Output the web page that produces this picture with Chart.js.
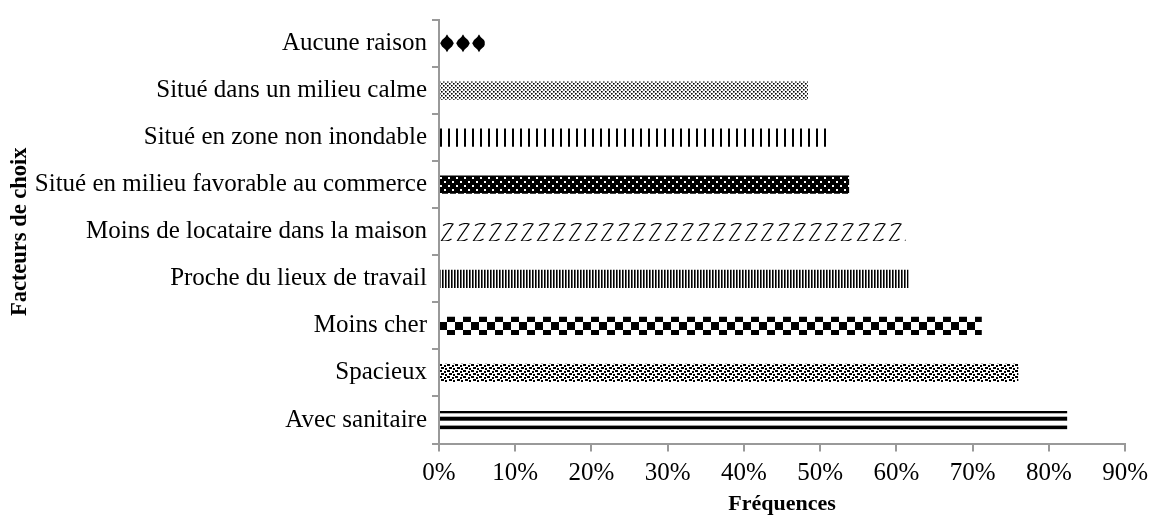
<!DOCTYPE html>
<html>
<head>
<meta charset="utf-8">
<script src="https://cdn.jsdelivr.net/npm/chart.js@4.4.1/dist/chart.umd.min.js"></script>
<style>
  html, body { margin: 0; padding: 0; background: #ffffff; }
  #wrap { width: 1155px; height: 524px; position: relative; }
</style>
</head>
<body>
<div id="wrap"><canvas id="chart"></canvas></div>
<script>
// Facteurs de choix du logement (fréquences en %)
const categories = [
  'Aucune raison',
  'Situé dans un milieu calme',
  'Situé en zone non inondable',
  'Situé en milieu favorable au commerce',
  'Moins de locataire dans la maison',
  'Proche du lieux de travail',
  'Moins cher',
  'Spacieux',
  'Avec sanitaire'
];
const frequences = [6.0, 48.4, 51.4, 53.8, 61.2, 61.6, 71.2, 76.0, 82.4];
const tickValues = [0, 10, 20, 30, 40, 50, 60, 70, 80, 90];
const tickLabels = ['0%', '10%', '20%', '30%', '40%', '50%', '60%', '70%', '80%', '90%'];

// Hatch fill for each bar, in category order
const hatchNames = ['diamonds', 'fineDots', 'wideLines', 'whiteDots', 'zigzag', 'narrowLines', 'checker', 'confetti', 'stripes'];

const BLACK = '#000000';
const SERIF = "'Liberation Serif', 'Times New Roman', serif";

function tile(w, h, paint) {
  const c = document.createElement('canvas');
  c.width = w; c.height = h;
  const g = c.getContext('2d');
  g.fillStyle = '#ffffff';
  g.fillRect(0, 0, w, h);
  g.fillStyle = BLACK;
  g.strokeStyle = BLACK;
  paint(g, w, h);
  return c;
}

const painters = {
  diamonds: () => tile(16, 24, (g) => {
    const cx = 8, cy = 9.2;
    g.beginPath();
    g.moveTo(cx, cy - 9);
    g.lineTo(cx + 1.6, cy - 6.2);
    g.lineTo(cx + 5.0, cy - 3.2);
    g.lineTo(cx + 6.8, cy);
    g.lineTo(cx + 5.0, cy + 3.2);
    g.lineTo(cx + 1.6, cy + 6.2);
    g.lineTo(cx, cy + 9);
    g.lineTo(cx - 1.6, cy + 6.2);
    g.lineTo(cx - 5.0, cy + 3.2);
    g.lineTo(cx - 6.8, cy);
    g.lineTo(cx - 5.0, cy - 3.2);
    g.lineTo(cx - 1.6, cy - 6.2);
    g.closePath();
    g.fill();
  }),
  fineDots: () => tile(4, 4, (g) => {
    g.fillRect(0, 0, 1.6, 1.6);
    g.fillRect(2, 2, 1.6, 1.6);
  }),
  wideLines: () => tile(8, 4, (g) => {
    g.fillRect(1, 0, 2, 4);
  }),
  whiteDots: () => tile(8, 8, (g) => {
    g.fillRect(0, 0, 8, 8);
    g.fillStyle = '#ffffff';
    g.fillRect(1, 1, 2, 2);
    g.fillRect(5, 5, 2, 2);
  }),
  zigzag: () => tile(16, 24, (g) => {
    g.lineWidth = 1.2;
    for (const ox of [-16, 0, 16]) {
      g.beginPath();
      // top stroke dipping towards the next unit
      g.moveTo(ox + 4, 2.5);
      g.quadraticCurveTo(ox + 9, -0.5, ox + 14, 1);
      // rising diagonal
      g.lineTo(ox + 2.5, 17.6);
      // bottom stroke
      g.quadraticCurveTo(ox + 7.5, 19.2, ox + 12.5, 16);
      g.stroke();
    }
  }),
  narrowLines: () => tile(3, 4, (g) => {
    g.fillRect(0, 0, 1.6, 4);
  }),
  checker: () => tile(16, 16, (g) => {
    g.fillRect(0, 5, 8, 8);
    g.fillRect(8, 13, 8, 3);
    g.fillRect(8, 0, 8, 5);
  }),
  confetti: () => tile(8, 6, (g) => {
    g.fillRect(0, 0, 3, 2);
    g.fillRect(5, 1, 2, 2);
    g.fillRect(2, 3, 3, 2);
    g.fillRect(6, 4, 2, 2);
  }),
  stripes: () => tile(4, 24, (g) => {
    g.fillRect(0, 0, 4, 2.3);
    g.fillRect(0, 5.7, 4, 4);
    g.fillRect(0, 14.6, 4, 4);
  })
};

const canvas = document.getElementById('chart');
const mainCtx = canvas.getContext('2d');
const patterns = hatchNames.map((n) => mainCtx.createPattern(painters[n](), 'repeat'));

// Anchor each hatch to the top of its own bar and to the value axis origin
const anchorHatches = {
  id: 'anchorHatches',
  beforeDatasetsDraw(chart) {
    const meta = chart.getDatasetMeta(0);
    const x0 = Math.round(chart.chartArea.left);
    meta.data.forEach((bar, i) => {
      const top = Math.round(bar.y - bar.height / 2);
      patterns[i].setTransform(new DOMMatrix([1, 0, 0, 1, x0, top]));
    });
  }
};

const AXIS = '#999999';

new Chart(canvas, {
  type: 'bar',
  data: {
    labels: categories,
    datasets: [{
      data: frequences,
      backgroundColor: patterns,
      borderWidth: 0,
      barPercentage: 0.39,
      categoryPercentage: 1.0
    }]
  },
  plugins: [anchorHatches],
  options: {
    indexAxis: 'y',
    responsive: true,
    maintainAspectRatio: false,
    animation: false,
    events: [],
    layout: { padding: { top: 17, right: 26, bottom: 0, left: 0 } },
    plugins: {
      legend: { display: false },
      tooltip: { enabled: false }
    },
    scales: {
      x: {
        type: 'linear',
        min: 0,
        max: 90,
        afterBuildTicks: (scale) => { scale.ticks = tickValues.map((v) => ({ value: v })); },
        afterFit: (scale) => { scale.height = 80.5; },
        grid: {
          drawOnChartArea: false,
          drawTicks: true,
          tickLength: 8,
          color: AXIS,
          lineWidth: 2
        },
        border: { display: true, color: AXIS, width: 2 },
        ticks: {
          padding: 7,
          color: BLACK,
          font: { family: SERIF, size: 25 },
          maxRotation: 0,
          callback: (v, i) => tickLabels[i]
        },
        title: {
          display: true,
          text: 'Fréquences',
          color: BLACK,
          font: { family: SERIF, size: 22, weight: 'bold' },
          padding: { top: 0, bottom: 6 }
        }
      },
      y: {
        afterFit: (scale) => { scale.width = 439; },
        grid: {
          drawOnChartArea: false,
          drawTicks: true,
          tickLength: 7,
          color: AXIS,
          lineWidth: 2,
          offset: true
        },
        border: { display: true, color: AXIS, width: 2 },
        ticks: {
          padding: 5,
          color: BLACK,
          font: { family: SERIF, size: 25 },
          autoSkip: false
        },
        title: {
          display: true,
          text: 'Facteurs de choix',
          color: BLACK,
          font: { family: SERIF, size: 22.5, weight: 'bold' },
          padding: { top: 7, bottom: 0 }
        }
      }
    }
  }
});
</script>
</body>
</html>
